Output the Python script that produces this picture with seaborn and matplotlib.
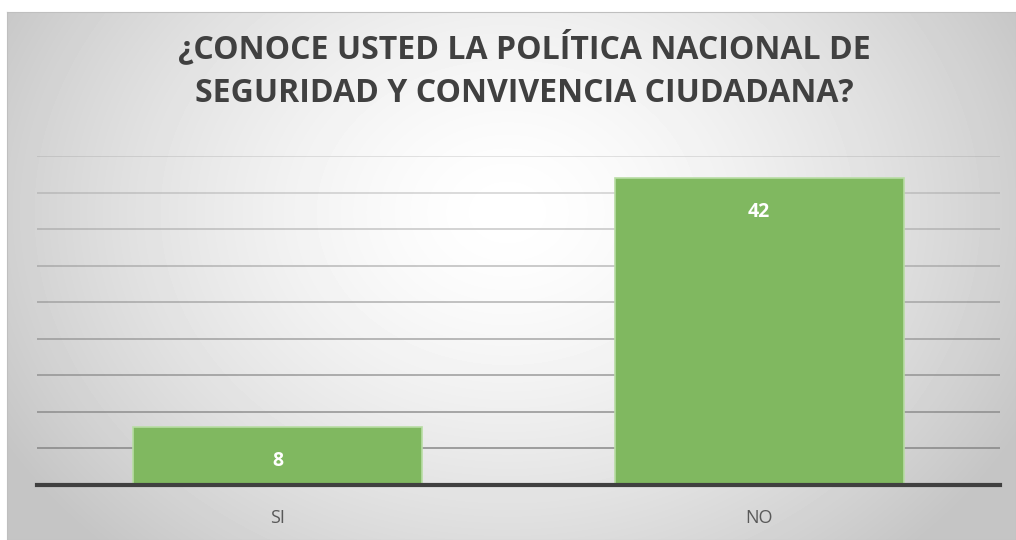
import numpy as np
import pandas as pd
import matplotlib.pyplot as plt
import seaborn as sns

# datos de la encuesta
respuestas = ["SI", "NO"]
conteos = [8, 42]
titulo = "¿CONOCE USTED LA POLÍTICA NACIONAL DE\nSEGURIDAD Y CONVIVENCIA CIUDADANA?"

df = pd.DataFrame({"respuesta": respuestas, "conteo": conteos})

sns.set_style("white")
plt.rcParams["font.family"] = ["Open Sans", "DejaVu Sans"]

fig = plt.figure(figsize=(10.16, 5.4), dpi=100)

# fondo con degradado radial (area del grafico)
bg = fig.add_axes([7 / 1016, 0, 1 - 7 / 1016, 528 / 540], zorder=0)
yy, xx = np.mgrid[0:528, 0:1009]
r = np.sqrt(((xx - 500) / 600) ** 2 + ((yy - 200) / 480) ** 2)
shade = np.clip(1 - 0.24 * r ** 1.5, 0.77, 1)
bg.imshow(shade, cmap="gray", vmin=0, vmax=1, aspect="auto", interpolation="bilinear")
bg.set_xticks([])
bg.set_yticks([])
for s in bg.spines.values():
    s.set_color("#bfbfbf")
    s.set_linewidth(0.8)

# area de trazado
ax = fig.add_axes([37 / 1016, (540 - 485) / 540, 963 / 1016, (485 - 156) / 540], zorder=1)
ax.patch.set_alpha(0)
sns.barplot(data=df, x="respuesta", y="conteo", color="#80b860", width=0.6,
            edgecolor="#b8dda4", linewidth=1.2, ax=ax, zorder=3, saturation=1)
ax.set_xlim(-0.5, 1.5)
ax.set_ylim(0, 45)
ax.set_yticks(np.arange(5, 50, 5))
ax.set_yticklabels([])
ax.tick_params(axis="y", length=0)
ax.tick_params(axis="x", length=0, labelsize=13, labelcolor="#595959", pad=17)
ax.set_xlabel("")
ax.set_ylabel("")
for s in ["top", "right", "left"]:
    ax.spines[s].set_visible(False)
ax.spines["bottom"].set_color("#404040")
ax.spines["bottom"].set_linewidth(3)
ax.spines["bottom"].set_zorder(4)

# lineas de cuadricula, mas suaves hacia arriba
ticks = ax.get_yticks()
for i, t in enumerate(ticks):
    a = 0.85 - 0.6 * i / (len(ticks) - 1)
    ax.axhline(t, color="#808080", linewidth=1.2, alpha=a, zorder=2)

for cont in ax.containers:
    ax.bar_label(cont, labels=[str(v) for v in conteos], label_type="edge", padding=-32,
                 color="white", fontsize=14, fontweight="bold")

fig.text(524 / 1016, 1 - 70 / 540, titulo, ha="center", va="center", fontsize=23,
         fontweight="bold", color="#404040", linespacing=1.45, zorder=5)

fig.savefig("out.png", dpi=100)
